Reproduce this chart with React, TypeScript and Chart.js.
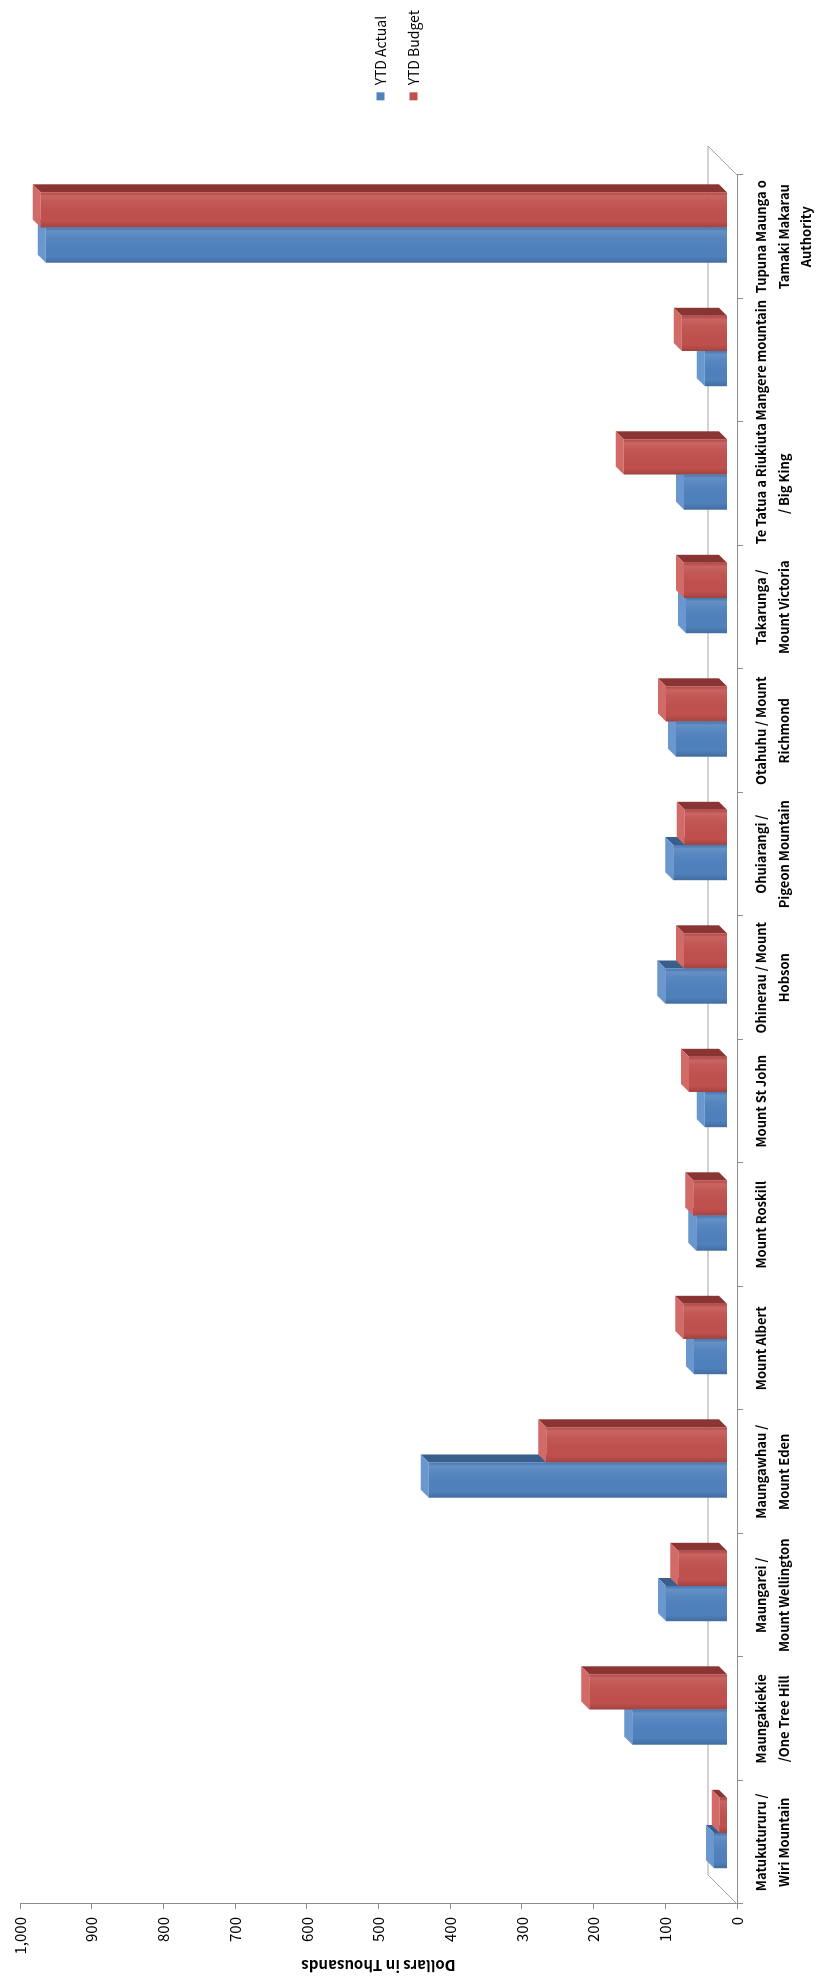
import React, { useEffect, useRef } from "react";
import { Chart, registerables } from "chart.js";

Chart.register(...registerables);

// ---------- data ----------
const categories: string[][] = [
  ["Matukutururu /", "Wiri Mountain"],
  ["Maungakiekie", "/One Tree Hill"],
  ["Maungarei /", "Mount Wellington"],
  ["Maungawhau /", "Mount Eden"],
  ["Mount Albert"],
  ["Mount Roskill"],
  ["Mount St John"],
  ["Ohinerau / Mount", "Hobson"],
  ["Ohuiarangi /", "Pigeon Mountain"],
  ["Otahuhu / Mount", "Richmond"],
  ["Takarunga /", "Mount Victoria"],
  ["Te Tatua a Riukiuta", "/ Big King"],
  ["Mangere mountain"],
  ["Tupuna Maunga o", "Tamaki Makarau", "Authority"],
];
const ytdActual = [18, 132, 85, 416, 46, 43, 31, 86, 75, 71, 57, 60, 31, 950];
const ytdBudget = [10, 192, 68, 252, 61, 47, 53, 60, 59, 85, 60, 144, 63, 957];
const seriesNames = ["YTD Actual", "YTD Budget"];
const valueMin = 0;
const valueMax = 1000;
const valueStep = 100;
const axisTitle = "Dollars in Thousands";

// ---------- style ----------
const W = 1980; // drawn unrotated, then turned -90deg
const H = 823;
const FONT = '"Noto Sans CJK SC", "Liberation Sans", sans-serif';
const AXIS = "#8C8C8C";
const FLOOR = "#A6A6A6";
const FRONT = ["#4F81BD", "#C0504D"];
const SIDE = ["#395E8C", "#8A3533"];
const TOPF = ["#6A97CE", "#D26A67"];
const BAR_DEPTH = 8;
const FLOOR_DEPTH = 29;
const PLOT_LEFT = 76;
const PLOT_RIGHT = 1805;
const PAD_TOP = 20;
const X_AXIS_H = 86;
const LEGEND_SIZE = 14;
const LEGEND_PAD = 19;
const LEGEND_BOX = 8;
const CAT_SHIFT = 0.075;
const VALUE_SHIFT = 14;

const depthPlugin = {
  id: "depth3d",
  beforeDatasetsDraw(chart: any) {
    const ctx = chart.ctx as CanvasRenderingContext2D;
    const { left, right, bottom } = chart.chartArea;
    ctx.save();
    ctx.strokeStyle = FLOOR;
    ctx.lineWidth = 1;
    ctx.beginPath();
    ctx.moveTo(left, bottom);
    ctx.lineTo(left + FLOOR_DEPTH, bottom - FLOOR_DEPTH);
    ctx.lineTo(right + FLOOR_DEPTH, bottom - FLOOR_DEPTH);
    ctx.lineTo(right, bottom);
    ctx.stroke();
    chart.data.datasets.forEach((_ds: any, di: number) => {
      const meta = chart.getDatasetMeta(di);
      meta.data.forEach((bar: any) => {
        const { x, y, base, width } = bar.getProps(["x", "y", "base", "width"], true);
        const x0 = x - width / 2;
        const x1 = x + width / 2;
        const d = BAR_DEPTH;
        ctx.fillStyle = SIDE[di];
        ctx.beginPath();
        ctx.moveTo(x1, y);
        ctx.lineTo(x1 + d, y - d);
        ctx.lineTo(x1 + d, base - d);
        ctx.lineTo(x1, base);
        ctx.closePath();
        ctx.fill();
        ctx.fillStyle = TOPF[di];
        ctx.beginPath();
        ctx.moveTo(x0, y);
        ctx.lineTo(x0 + d, y - d);
        ctx.lineTo(x1 + d, y - d);
        ctx.lineTo(x1, y);
        ctx.closePath();
        ctx.fill();
      });
    });
    ctx.restore();
  },
  afterDatasetsDraw(chart: any) {
    const ctx = chart.ctx as CanvasRenderingContext2D;
    ctx.save();
    chart.data.datasets.forEach((_ds: any, di: number) => {
      const meta = chart.getDatasetMeta(di);
      meta.data.forEach((bar: any) => {
        const { x, y, base, width } = bar.getProps(["x", "y", "base", "width"], true);
        const x0 = x - width / 2;
        const x1 = x + width / 2;
        const g = ctx.createLinearGradient(x0, 0, x1, 0);
        g.addColorStop(0, "rgba(0,0,0,0.16)");
        g.addColorStop(0.18, "rgba(0,0,0,0)");
        g.addColorStop(0.75, "rgba(255,255,255,0.06)");
        g.addColorStop(0.9, "rgba(255,255,255,0.12)");
        g.addColorStop(1, "rgba(0,0,0,0.05)");
        ctx.fillStyle = g;
        ctx.fillRect(x0, y, x1 - x0, base - y);
      });
    });
    ctx.restore();
  },
};

export default function App() {
  const ref = useRef<HTMLCanvasElement>(null);

  useEffect(() => {
    const canvas = ref.current;
    if (!canvas) return;
    const mctx = document.createElement("canvas").getContext("2d")!;
    mctx.font = `${LEGEND_SIZE}px ${FONT}`;
    const textW = Math.max(...seriesNames.map((s) => mctx.measureText(s).width));
    const legendW = LEGEND_PAD + LEGEND_BOX + LEGEND_SIZE / 2 + textW + 10;
    const spacer = Math.max(0, W - PLOT_RIGHT - legendW);

    const chart = new Chart(canvas, {
      type: "bar",
      data: {
        labels: categories,
        datasets: [
          {
            label: seriesNames[0],
            data: ytdActual.map((v, i) => ({ x: i, y: v })),
            backgroundColor: FRONT[0],
            borderWidth: 0,
            xAxisID: "xb",
            yAxisID: "yb",
            categoryPercentage: 0.57,
            barPercentage: 1,
          },
          {
            label: seriesNames[1],
            data: ytdBudget.map((v, i) => ({ x: i, y: v })),
            backgroundColor: FRONT[1],
            borderWidth: 0,
            xAxisID: "xb",
            yAxisID: "yb",
            categoryPercentage: 0.57,
            barPercentage: 1,
          },
        ],
      } as any,
      options: {
        responsive: false,
        animation: false,
        devicePixelRatio: 1,
        layout: { padding: { top: PAD_TOP, right: 0, bottom: 0, left: 0 } },
        plugins: {
          tooltip: { enabled: false },
          legend: {
            display: true,
            position: "right",
            align: "center",
            fullSize: false,
            title: { display: true, text: "", font: { size: 12, lineHeight: 1.2 }, padding: { top: 22.6, bottom: 0 } },
            labels: {
              boxWidth: LEGEND_BOX,
              boxHeight: LEGEND_BOX,
              padding: LEGEND_PAD,
              color: "#000",
              font: { family: FONT, size: LEGEND_SIZE },
            },
          },
        },
        scales: {
          x: {
            type: "category",
            position: "bottom",
            offset: true,
            grid: {
              display: true,
              offset: true,
              drawOnChartArea: false,
              drawTicks: true,
              tickLength: 6,
              color: AXIS,
            },
            border: { display: true, color: AXIS, width: 1 },
            ticks: {
              color: "#000",
              font: { family: FONT, size: 13, weight: "bold", lineHeight: 1.73 },
              padding: 7,
              maxRotation: 0,
              minRotation: 0,
              autoSkip: false,
            },
            afterFit: (s: any) => {
              s.height = X_AXIS_H;
            },
          },
          y: {
            type: "linear",
            position: "left",
            min: valueMin,
            max: valueMax,
            ticks: {
              stepSize: valueStep,
              color: "#000",
              font: { family: FONT, size: 15 },
              padding: 8,
            },
            grid: { display: true, drawOnChartArea: false, tickLength: 5, color: AXIS },
            border: { display: true, color: AXIS, width: 1 },
            title: {
              display: true,
              text: axisTitle,
              color: "#000",
              font: { family: FONT, size: 15, weight: "bold" },
              padding: { top: 5, bottom: 0 },
            },
            afterFit: (s: any) => {
              s.width = PLOT_LEFT;
            },
          },
          xb: {
            type: "linear",
            display: false,
            min: -0.5 - CAT_SHIFT,
            max: categories.length - 0.5 - CAT_SHIFT,
            ticks: { stepSize: 1 },
            afterBuildTicks: (s: any) => {
              s.ticks = s.ticks.filter((t: any) => Number.isInteger(t.value));
            },
          },
          yb: {
            type: "linear",
            position: "right",
            display: true,
            min: valueMin - VALUE_SHIFT,
            max: valueMax - VALUE_SHIFT,
            ticks: { display: false },
            grid: { display: false },
            border: { display: false },
            afterFit: (s: any) => {
              s.width = spacer;
            },
          },
        },
      } as any,
      plugins: [depthPlugin],
    });
    return () => chart.destroy();
  }, []);

  return (
    <div
      style={{
        position: "absolute",
        left: 0,
        top: 0,
        width: 823,
        height: 1980,
        overflow: "hidden",
        background: "#fff",
      }}
    >
      <div
        style={{
          position: "absolute",
          left: 0,
          top: 0,
          width: W,
          height: H,
          transformOrigin: "0 0",
          transform: `translate(0px, ${W}px) rotate(-90deg)`,
        }}
      >
        <canvas ref={ref} width={W} height={H} style={{ width: W, height: H, display: "block" }} />
      </div>
    </div>
  );
}
